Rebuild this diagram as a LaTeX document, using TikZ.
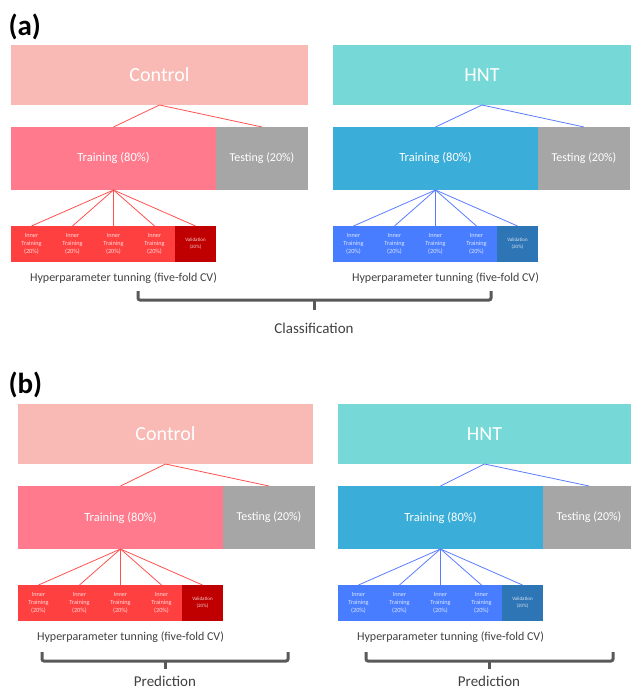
\documentclass[tikz,border=0pt]{standalone}
\usepackage{fontspec}
\setmainfont{Carlito}
\usetikzlibrary{positioning}

\definecolor{ctrltop}{RGB}{249,186,181}
\definecolor{ctrltrain}{RGB}{255,122,141}
\definecolor{ctrlinner}{RGB}{255,64,64}
\definecolor{ctrlval}{RGB}{192,0,0}
\definecolor{ctrlline}{RGB}{255,80,80}
\definecolor{hnttop}{RGB}{118,216,215}
\definecolor{hnttrain}{RGB}{58,173,217}
\definecolor{hntinner}{RGB}{72,125,255}
\definecolor{hntval}{RGB}{46,117,182}
\definecolor{hntline}{RGB}{90,125,255}
\definecolor{testgray}{RGB}{166,166,166}
\definecolor{bracegray}{RGB}{89,89,89}
\definecolor{labeltext}{RGB}{64,64,64}

\begin{document}
\begin{tikzpicture}[x=1pt, y=-1pt,
  box/.style={inner sep=0pt, outer sep=0pt, text=white, align=center},
  tinybox/.style={box, minimum width=41pt, minimum height=36pt, text opacity=0.8,
                  font=\fontsize{6.3}{7.7}\selectfont},
  conn/.style={line width=0.8pt},
  hyper/.style={text=labeltext, font=\fontsize{12}{14}\selectfont},
  result/.style={text=labeltext, font=\fontsize{15}{17}\selectfont},
  bracket/.style={draw=bracegray, line width=3pt, rounded corners=2pt},
  panel/.style={font=\bfseries\fontsize{29}{32}\selectfont, anchor=west}]
  \useasboundingbox (0,0) rectangle (630,690);

  \node[panel] (lbl-a) at (5,27) {(a)};
  \node[panel] (lbl-b) at (5,385) {(b)};

  \foreach \p/\x/\y/\w/\name/\topc/\trainc/\innc/\valc/\linec in {
      ac/11/45/297/Control/ctrltop/ctrltrain/ctrlinner/ctrlval/ctrlline,
      ah/333/45/298/HNT/hnttop/hnttrain/hntinner/hntval/hntline,
      bc/18/404/295/Control/ctrltop/ctrltrain/ctrlinner/ctrlval/ctrlline,
      bh/338/404/293/HNT/hnttop/hnttrain/hntinner/hntval/hntline}
  {
    \node[box, anchor=north west, fill=\topc, minimum width=\w pt, minimum height=60pt,
          font=\fontsize{20}{24}\selectfont] (\p-top) at (\x,\y) {\name};
    \node[box, fill=\trainc, minimum width=205pt, minimum height=63pt, font=\fontsize{12.5}{14}\selectfont,
          below right=22pt and 0pt of \p-top.south west] (\p-train) {Training (80\%)};
    \node[box, fill=testgray, minimum width=92pt, minimum height=63pt, font=\fontsize{12}{14}\selectfont,
          right=0pt of \p-train] (\p-test) {Testing (20\%)};
    % five folds
    \node[tinybox, fill=\innc, below right=36pt and 0pt of \p-train.south west] (\p-f1) {Inner\\Training\\(20\%)};
    \foreach \i/\j in {2/1,3/2,4/3}
      \node[tinybox, fill=\innc, right=0pt of \p-f\j] (\p-f\i) {Inner\\Training\\(20\%)};
    \node[tinybox, fill=\valc, right=0pt of \p-f4, font=\fontsize{5}{6.8}\selectfont] (\p-f5) {Validation\\(20\%)};

    \draw[conn, draw=\linec] (\p-top.south) -- (\p-train.north);
    \draw[conn, draw=\linec] (\p-top.south) -- (\p-test.north);
    \foreach \i in {1,...,5}
      \draw[conn, draw=\linec] (\p-train.south) -- (\p-f\i.north);

    \node[hyper] (\p-cv) at ([xshift=10pt, yshift=-16pt]\p-f3.south) {Hyperparameter tunning (five-fold CV)};
  }

  % brackets
  \node[result] (cls) at (314,328) {Classification};
  \draw[bracket] (138,291) |- (491,300) -- (491,291);
  \draw[bracket] (314,300) -- (314,310);

  \node[result] (pred-c) at (165,681) {Prediction};
  \draw[bracket] (42,652) |- (288,661) -- (288,652);
  \draw[bracket] (165,661) -- (165,669);

  \node[result] (pred-h) at (489,681) {Prediction};
  \draw[bracket] (366,652) |- (613,661) -- (613,652);
  \draw[bracket] (489,661) -- (489,669);
\end{tikzpicture}
\end{document}
